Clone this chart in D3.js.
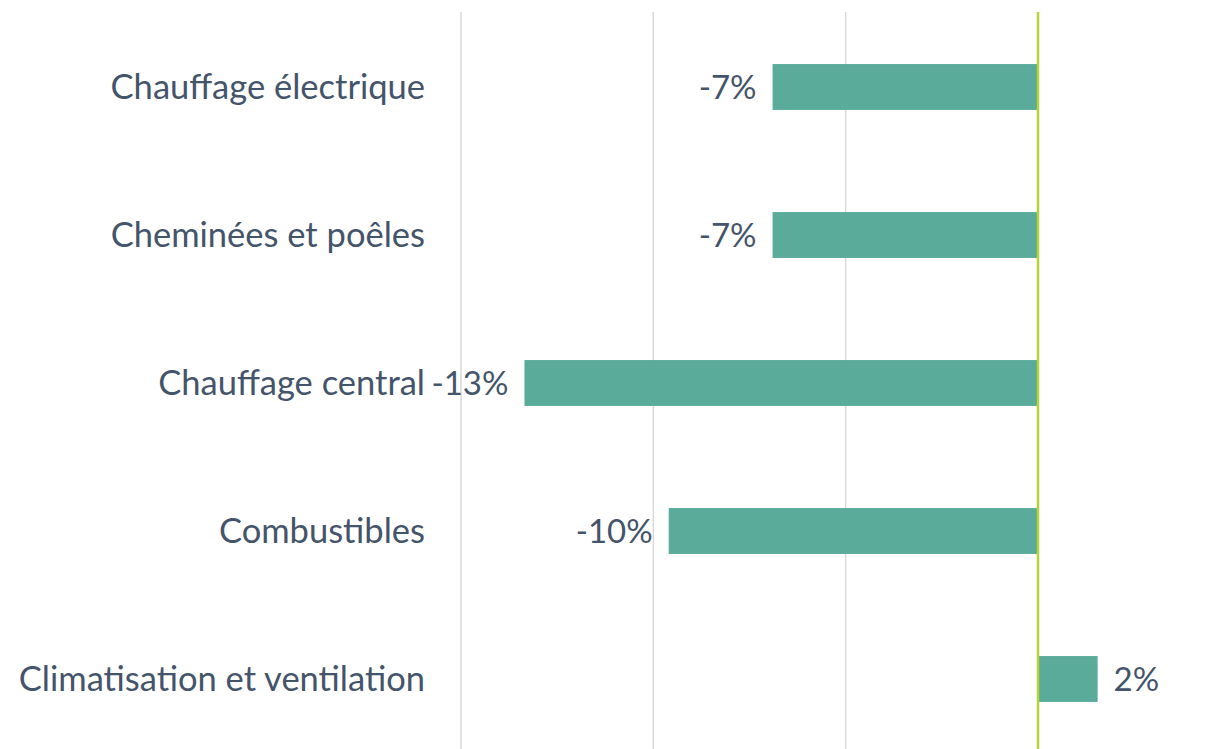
<!DOCTYPE html>
<html>
<head>
<meta charset="utf-8">
<script src="https://cdn.jsdelivr.net/npm/d3@7"></script>
<style>
  html, body { margin: 0; padding: 0; background: #fff; }
  svg { display: block; font-family: Lato, "Open Sans", sans-serif; }
</style>
</head>
<body>
<svg id="chart" width="1216" height="749"></svg>
<script>
// Variation par poste (chauffage / climatisation)
const categories = [
  "Chauffage électrique",
  "Cheminées et poêles",
  "Chauffage central",
  "Combustibles",
  "Climatisation et ventilation"
];
const values = [-0.069, -0.069, -0.1335, -0.096, 0.0155];
const gridTicks = [-0.15, -0.10, -0.05];

const COLORS = {
  bar:  "#5aab9a",
  zero: "#b6d432",
  grid: "#d9d9d9",
  text: "#44546a"
};

const svg = d3.select("#chart");

const x = d3.scaleLinear()
  .domain([-0.15, 0])
  .range([461, 1038]);

const y = d3.scaleBand()
  .domain(categories)
  .range([13, 753])
  .paddingInner(0.69)
  .paddingOuter(0.345);

// vertical gridlines
svg.append("g")
  .selectAll("line")
  .data(gridTicks)
  .join("line")
  .attr("x1", d => x(d)).attr("x2", d => x(d))
  .attr("y1", 12).attr("y2", 749)
  .attr("stroke", COLORS.grid)
  .attr("stroke-width", 1.5);

// bars
svg.append("g")
  .selectAll("rect")
  .data(values)
  .join("rect")
  .attr("x", d => x(Math.min(0, d)))
  .attr("width", d => Math.abs(x(d) - x(0)))
  .attr("y", (d, i) => y(categories[i]))
  .attr("height", y.bandwidth())
  .attr("fill", COLORS.bar);

// zero line
svg.append("line")
  .attr("x1", x(0)).attr("x2", x(0))
  .attr("y1", 12).attr("y2", 749)
  .attr("stroke", COLORS.zero)
  .attr("stroke-width", 2.5);

// category labels
svg.append("g")
  .selectAll("text")
  .data(categories)
  .join("text")
  .attr("x", 425)
  .attr("y", d => y(d) + y.bandwidth() / 2)
  .attr("dy", "0.35em")
  .attr("text-anchor", "end")
  .attr("fill", COLORS.text)
  .attr("font-size", 34.5)
  .text(d => d);

// value labels
const fmt = d3.format(".0%");
svg.append("g")
  .selectAll("text")
  .data(values)
  .join("text")
  .attr("x", d => d < 0 ? x(d) - 16 : x(d) + 16)
  .attr("y", (d, i) => y(categories[i]) + y.bandwidth() / 2)
  .attr("dy", "0.35em")
  .attr("text-anchor", d => d < 0 ? "end" : "start")
  .attr("fill", COLORS.text)
  .attr("font-size", 33)
  .text(d => fmt(d).replace("−", "-"));
</script>
</body>
</html>
